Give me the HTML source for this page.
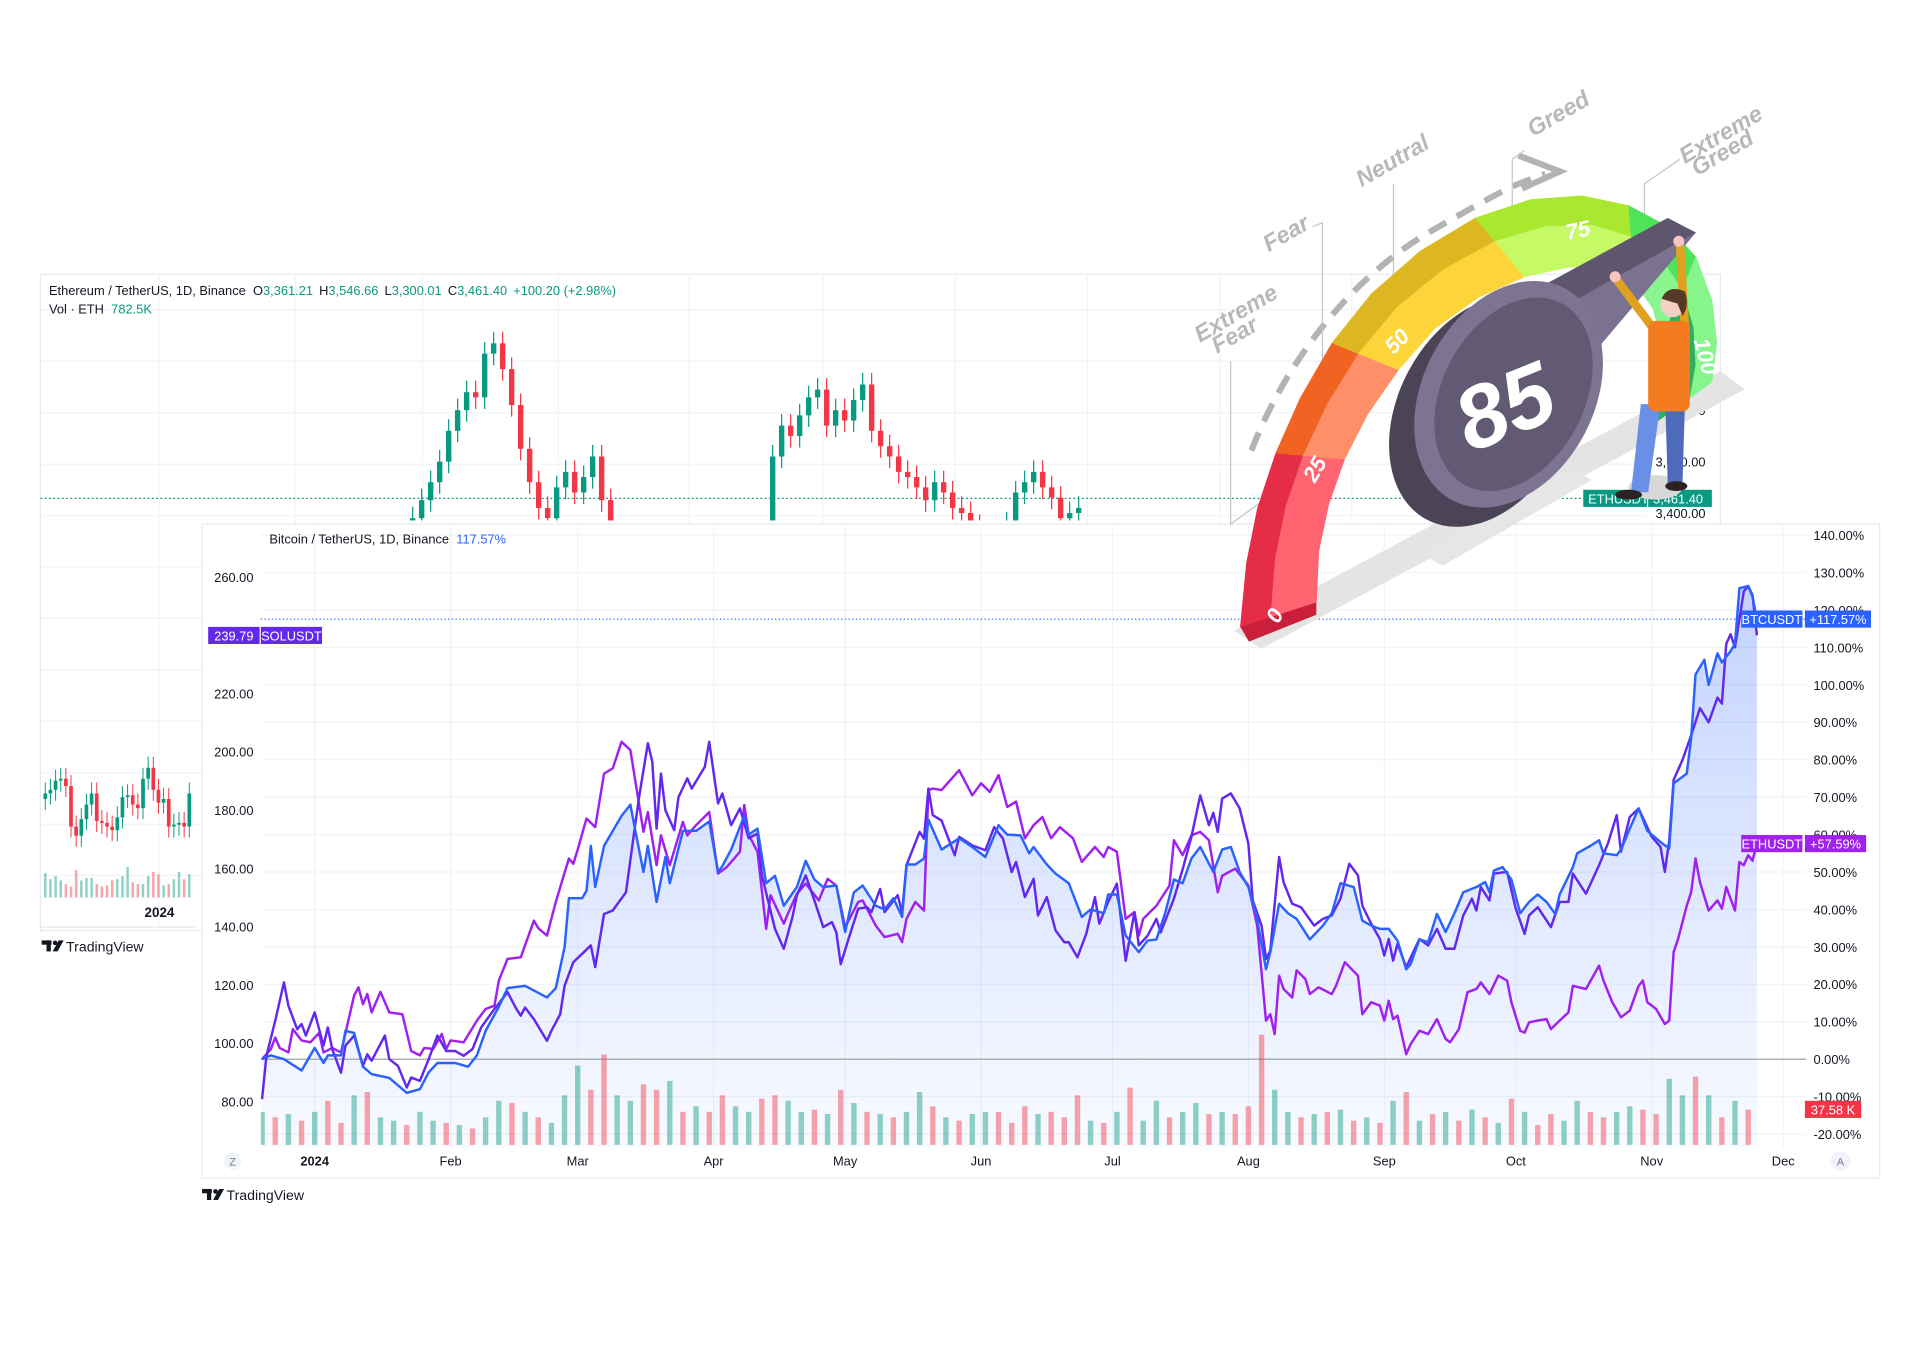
<!DOCTYPE html>
<html><head><meta charset="utf-8">
<style>
html,body{margin:0;padding:0;background:#fff;width:1920px;height:1350px;overflow:hidden}
#stage{position:absolute;left:0;top:0;width:1568px;height:1103px;transform:scale(1.224490);transform-origin:0 0}
svg text{font-family:"Liberation Sans",sans-serif}
</style></head>
<body>
<div id="stage">
<svg id="svg" width="1568" height="1103" viewBox="0 0 1568 1103" xmlns="http://www.w3.org/2000/svg">
  <g id="ethPanel">
    <rect x="33" y="224" width="1372" height="536" fill="#fff" stroke="#e8eaf0" stroke-width="1"/>
    <g id="ethGrid"></g>
    <line x1="33" y1="407" x2="1345" y2="407" stroke="#089981" stroke-width="1" stroke-dasharray="1.5 2"/>
    <g id="ethCandles"></g>
    <g id="miniChart"></g>
    <text x="40" y="241" font-size="10.5" fill="#131722">Ethereum / TetherUS, 1D, Binance <tspan dx="3">O</tspan><tspan fill="#089981">3,361.21</tspan><tspan dx="5">H</tspan><tspan fill="#089981">3,546.66</tspan><tspan dx="5">L</tspan><tspan fill="#089981">3,300.01</tspan><tspan dx="5">C</tspan><tspan fill="#089981">3,461.40</tspan><tspan dx="5" fill="#089981">+100.20 (+2.98%)</tspan></text>
    <text x="40" y="256" font-size="10.5" fill="#131722">Vol · ETH <tspan dx="3" fill="#089981">782.5K</tspan></text>
    <text x="1352" y="339" font-size="10.5" fill="#131722">3,800.00</text>
    <text x="1352" y="381" font-size="10.5" fill="#131722">3,600.00</text>
    <text x="1352" y="423" font-size="10.5" fill="#131722">3,400.00</text>
    <line x1="33" y1="757" x2="160" y2="757" stroke="#e0e3eb"/>
    <text x="118" y="749" font-size="11" font-weight="bold" fill="#131722">2024</text>
    <g>
      <rect x="34" y="768" width="8" height="3.5" fill="#131722"/><rect x="38" y="768" width="3.5" height="9" fill="#131722"/>
      <circle cx="45" cy="770" r="1.9" fill="#131722"/><polygon points="48,768 52,768 47,777 43,777" fill="#131722"/>
      <text x="54" y="777" font-size="11.5" fill="#131722">TradingView</text>
    </g>
  </g>

  <g id="btcPanel">
    <rect x="165" y="428" width="1370" height="534" fill="#fff" stroke="#e8eaf0" stroke-width="1"/>
    <g id="grid"></g>
    <defs>
      <linearGradient id="areaGrad" x1="0" y1="0" x2="0" y2="1">
        <stop offset="0" stop-color="#2962ff" stop-opacity="0.28"/>
        <stop offset="1" stop-color="#2962ff" stop-opacity="0.03"/>
      </linearGradient>
      <clipPath id="plotClip"><rect x="213" y="429" width="1262" height="508"/></clipPath>
    </defs>
    <g id="plot" clip-path="url(#plotClip)"></g>
    <g id="axes"></g>
    <text x="220" y="444" font-size="10.5" fill="#131722">Bitcoin / TetherUS, 1D, Binance <tspan dx="3" fill="#2962ff">117.57%</tspan></text>
    <g>
      <rect x="165" y="971" width="8" height="3.5" fill="#131722"/><rect x="169" y="971" width="3.5" height="9" fill="#131722"/>
      <circle cx="176" cy="973" r="1.9" fill="#131722"/><polygon points="179,971 183,971 178,980 174,980" fill="#131722"/>
      <text x="185" y="980" font-size="11.5" fill="#131722">TradingView</text>
    </g>
  </g>

  <g id="gauge">
    <polygon points="1008,515 1030,530 1425,318 1405,303" fill="#e4e4e4"/>
    <polygon points="1160,452 1178,462 1300,392 1283,382" fill="#e6e6e6"/>
    <path d="M1022,368 C1048,300 1100,228 1170,188 S1235,152 1262,142" fill="none" stroke="#b3b3b3" stroke-width="5" stroke-dasharray="16 10"/>
    <polyline points="1240,127 1274,140 1243,154" fill="none" stroke="#b3b3b3" stroke-width="5"/>
    <g stroke="#c4c4c4" stroke-width="1" fill="none">
      <polyline points="1030,410 1005,428 1005,295"/>
      <polyline points="1080,318 1080,182 1072,185"/>
      <polyline points="1138,240 1138,150"/>
      <polyline points="1235,170 1235,130 1245,123"/>
      <polyline points="1343,210 1343,150 1372,130"/>
    </g>
    <g fill="#b8b8b8" font-style="italic" font-weight="bold" font-size="19">
      <text transform="translate(980,280) rotate(-30)">Extreme</text>
      <text transform="translate(994,289) rotate(-30)">Fear</text>
      <text transform="translate(1036,206) rotate(-30)">Fear</text>
      <text transform="translate(1112,153) rotate(-30)">Neutral</text>
      <text transform="translate(1252,112) rotate(-30)">Greed</text>
      <text transform="translate(1376,134) rotate(-30)">Extreme</text>
      <text transform="translate(1386,144) rotate(-30)">Greed</text>
    </g>
    <g id="bands"></g>
    <g fill="#fff" font-style="italic" font-weight="bold" font-size="18">
      <text transform="translate(1044,510) rotate(-62)">0</text>
      <text transform="translate(1074,395) rotate(-60)">25</text>
      <text transform="translate(1138,290) rotate(-45)">50</text>
      <text transform="translate(1280,196) rotate(-12)">75</text>
      <text transform="translate(1383,278) rotate(75)">100</text>
    </g>
    <rect x="1293" y="400" width="52" height="14" fill="#089981"/>
    <text x="1297" y="411" font-size="10.5" fill="#fff">ETHUSDT</text>
    <rect x="1346" y="400" width="52" height="14" fill="#089981"/>
    <text x="1350" y="411" font-size="10.5" fill="#fff">3,461.40</text>
    <g>
      <polygon points="1255,236 1362,178 1385,190 1300,290 1262,300" fill="#7a7290"/>
      <polygon points="1255,236 1362,178 1385,190 1285,246" fill="#5d566c"/>
      <ellipse cx="1212" cy="336" rx="70" ry="100" transform="rotate(28 1212 336)" fill="#4b4456"/>
      <ellipse cx="1232" cy="322" rx="70" ry="98" transform="rotate(28 1232 322)" fill="#7c7490"/>
      <ellipse cx="1236" cy="322" rx="58" ry="84" transform="rotate(28 1236 322)" fill="#625a72"/>
      <text transform="translate(1238,355) rotate(-22)" font-size="72" font-weight="bold" font-style="italic" fill="#fff" text-anchor="middle">85</text>
    </g>
    <g>
      <ellipse cx="1352" cy="398" rx="22" ry="10" fill="#d8d8d8"/>
      <polygon points="1340,330 1356,330 1346,402 1332,402" fill="#6a8fe6"/>
      <polygon points="1360,330 1376,330 1374,396 1362,396" fill="#4d6bb8"/>
      <ellipse cx="1330" cy="404" rx="11" ry="4" fill="#2b2323"/>
      <ellipse cx="1369" cy="397" rx="9" ry="4" fill="#2b2323"/>
      <line x1="1353" y1="272" x2="1320" y2="228" stroke="#e0a020" stroke-width="7" stroke-linecap="round"/>
      <line x1="1376" y1="268" x2="1372" y2="200" stroke="#e0a020" stroke-width="7" stroke-linecap="round"/>
      <rect x="1346" y="262" width="34" height="74" rx="6" fill="#f47b20"/>
      <circle cx="1319" cy="226" r="4.5" fill="#f7c3c3"/>
      <circle cx="1371" cy="197" r="4.5" fill="#f7c3c3"/>
      <circle cx="1366" cy="249" r="10" fill="#f5cfc4"/>
      <path d="M1357,244 Q1362,232 1376,238 Q1380,250 1374,258 L1370,248 Z" fill="#553a26"/>
    </g>
  </g>
</svg>
</div>
<script>
const btcDays=[-12,-10,-7,-3,0,2,3,6,7,9,11,13,17,21,24,26,28,32,35,37,39,42,44,48,53,55,57,58,61,62,63,64,66,70,72,73,75,76,78,80,81,84,87,90,92,93,95,98,99,101,103,105,107,110,112,114,116,119,121,123,125,128,130,132,134,135,137,139,140,143,147,150,153,156,158,161,163,164,167,169,172,175,177,180,181,183,185,188,190,192,194,196,198,200,202,205,207,209,211,213,215,217,218,220,222,224,227,230,232,234,237,239,241,243,245,247,249,250,252,254,256,258,260,262,265,267,268,269,271,273,275,277,279,281,283,284,287,288,291,293,294,297,298,300,302,304,307,309,310,313,314,315,317,318,320,321,323,324,325,327,328,329];
const btcPct=[0,1,0,-3,3,-1,1,1,7.6,7,-2,-4,-5,-9,-8,-3.5,-1,-1,-2,1,7.6,14,19,19.6,16.5,19,30,43,43,45,57,46,57,65,68,62,50,57,42,54,47,61,61,63.5,50,51.6,56,65,60,61.6,47,49,41,46,53,48,46,46.4,34,44.6,46.4,41,40,43,38,52,52,53.6,64,56,59,56.7,54,62.5,60,59.8,55,56.7,52,49.6,47,38,40,39,44,44,33,28.6,31.7,32,39,48,47,53.6,56.7,50,56,56.7,50,46,37.5,24,28.6,41.5,39,37.5,32,35.7,39,47,46,37,35.7,34.8,34.8,31.7,24,25.4,32,31.3,38.8,34,39,44.6,46,47.3,44.6,50.4,51.3,48,39,42,44,42,38.8,44,51.3,55,57,58.5,55,54.5,56,61.6,67,61,58,56.3,73.7,76.3,85.7,102.8,106.7,100,108.4,106,109,111,125.8,126.4,123.6,117.57];
const ethDays=[-12,-10,-9,-8,-6,-5,-3,-1,1,2,4,6,9,10,11,12,13,15,17,20,22,24,25,27,29,30,31,34,37,39,41,42,44,47,50,51,53,55,58,59,60,62,64,66,68,70,72,75,76,78,79,81,84,85,87,90,92,94,97,98,99,101,103,104,107,108,110,112,115,117,119,121,124,125,128,130,133,134,135,137,139,140,141,143,147,150,152,154,156,158,160,162,164,166,168,170,173,175,178,180,181,183,185,187,188,189,192,195,196,198,200,202,204,206,207,210,213,215,217,218,219,220,221,223,224,226,227,229,232,233,235,238,239,241,243,244,245,246,247,249,250,252,254,256,258,259,261,263,265,266,268,270,272,273,275,276,277,279,281,282,284,286,287,290,293,294,296,298,300,302,303,304,306,308,309,310,311,313,314,315,316,318,320,321,322,324,325,326,327,328,329];
const ethPct=[0,2.7,5.8,3,1.8,8,5,4.5,7,1.8,3,1.8,17,19.2,14.7,17.4,12.5,18,12.5,12,2.2,1,3,2.7,6.7,2.7,5,4.5,10.3,13.4,14.3,21,26.8,27.2,37,35,33,42,53.6,52.2,56,64.3,62,76.3,77.7,84.8,82.6,60.7,66,51.8,59.8,51.8,63.4,59.8,62.5,66,49.6,51.3,55.4,67.9,60,55.4,34.8,43.8,36.2,39,44.2,46.9,42.4,48.2,46.4,35.3,42,42.4,35.7,32.6,33.5,31.3,37.5,42,39.7,71.9,72.3,71.9,77.2,70.5,73.7,71.4,75.9,67.4,68.8,59,62.5,64.7,59,62,59,52.7,56.7,54,56.7,55.4,37.5,39.3,33,37.5,41,46.4,58.5,54.5,59.8,60.7,58.5,44.6,49,50.9,46.4,35.7,10.3,12,6.7,22.3,18.75,16.5,23.7,21.4,17.4,19.2,17.4,19.6,25.9,22.3,12,15.2,14.3,10.3,15.6,10.7,11.6,1.3,4,7.6,6.7,10.7,5.4,4.5,8,17.9,18.75,20.5,17.4,22.3,21,15.2,7.6,7.1,9.8,10.3,10.7,8,10.3,12.5,19.6,18.75,25,21,15.2,11.2,13,19.6,21,15.2,13.4,9.4,10.3,28.6,32.1,41,44.6,53.6,47.3,39.7,42.4,40.2,46,39.7,52.7,51.8,54.5,53,57.59];
const solDays=[-12,-11,-9,-7,-6,-4,-3,-2,0,2,3,4,6,7,9,11,12,13,16,17,19,21,22,24,26,28,30,32,34,36,38,41,44,46,47,48,50,53,54,56,57,59,63,64,66,68,71,73,74,76,77,78,79,80,82,83,85,86,89,90,92,93,95,97,99,101,102,105,107,109,110,112,114,116,118,119,120,122,124,126,127,129,130,133,134,135,138,139,140,141,143,146,147,150,153,155,157,159,160,162,164,165,167,169,171,172,174,176,178,179,181,183,185,187,188,190,192,193,196,198,200,202,204,205,206,207,209,211,213,214,216,217,218,220,221,223,225,228,230,232,234,236,238,239,241,243,244,245,246,247,249,252,254,256,258,260,262,264,265,266,268,269,272,274,276,277,279,282,284,286,287,290,293,295,297,298,300,302,305,307,308,309,310,312,314,316,318,320,321,322,323,324,326,327,328,329];
const solPct=[-10.7,0.9,10.3,20.5,14.3,8,9.4,6.3,12.5,3.6,8.5,2.7,-3.6,3.6,6.3,-1.8,1.3,-0.4,6.3,0,-1.8,-7.6,-4.9,-5.8,0,6.3,2.2,2.2,0.9,2.7,8.5,13.4,17.9,13.4,11.6,13.8,10.7,4.9,7.6,12,19.6,25.9,30.4,24.6,38.8,39.7,44.6,61.6,70,84.4,79.5,61.6,76.3,66.5,61.2,70,75,72.3,78.1,84.8,68.3,71,62.5,67,59,60.3,49.1,34.8,29.5,38,43.8,49.1,42.4,35.3,36.6,33.9,25.4,33,40.2,40.6,39.3,45.5,39.3,43.8,39.3,51.8,60.7,58.9,72.3,65.2,63.8,54.5,59.4,57.1,55.8,62,58.9,50,52.7,43.3,48.2,38.4,43.3,34.4,31.25,31.25,27.2,33.5,43.3,36.2,42,46.9,26.3,39.3,30.4,33,37.5,33.9,42.9,50.7,59.4,70.5,62.5,65.8,60.7,69.6,71,67,57.6,42.4,35.7,26.8,29,54,47.3,41.5,40.6,35.7,37.5,38.4,42.9,52.2,49.1,41,36.2,32.1,27.7,32.1,26.3,30.8,24.6,32.1,30.4,34.8,29.5,29.5,38.4,42.9,39.7,46,42.4,49.6,50,40.2,33.5,38.4,40.6,35.3,42,42,49.6,44.2,51.8,57.6,65.2,55.4,64.7,67,59.4,56.7,50,58.5,74.6,79.9,86.5,93.8,90,96.6,95,111,113.5,110,125,126.4,124,113.2];
const solLastPrice=239.79;
const volFirstDay=-12, volStepDays=3;
const volValues=[30,25,28,22,30,40,20,45,48,25,22,18,30,22,20,18,15,25,40,38,30,25,20,45,72,50,82,45,40,55,50,58,30,35,30,45,35,30,42,45,40,30,32,28,50,38,30,28,25,30,48,35,25,22,28,30,30,20,35,28,30,25,45,22,20,30,52,22,40,25,30,38,28,30,28,35,100,50,30,25,28,30,32,22,25,20,40,48,22,28,30,22,32,25,20,42,30,18,28,22,40,30,25,30,35,32,28,60,45,62,45,25,40,32];
const volUp=[1,0,1,0,1,0,0,1,0,1,1,0,1,1,0,1,0,1,1,0,1,0,1,1,1,0,0,1,1,0,0,1,0,1,0,0,1,1,0,0,1,1,0,1,0,1,0,1,0,1,1,0,1,0,1,1,0,0,0,1,0,0,0,1,0,1,0,1,1,0,1,1,0,1,0,0,0,1,1,0,1,0,1,0,1,0,1,0,1,0,1,0,1,0,1,0,1,0,0,1,1,0,0,1,1,0,0,1,1,0,1,0,1,0];
const pctTicks=[-20,-10,0,10,20,30,40,50,60,70,80,90,100,110,120,130,140];
const solTicks=[80,100,120,140,160,180,200,220,260];
const monthLabels=["2024","Feb","Mar","Apr","May","Jun","Jul","Aug","Sep","Oct","Nov","Dec"];
const monthDays=[0,31,60,91,121,152,182,213,244,274,305,335];
const ethClose=[3380,3450,3520,3600,3720,3800,3870,3850,4020,4060,3960,3820,3650,3520,3420,3380,3500,3560,3480,3540,3620,3450,3300,3250,3200,3150,3100,3050,3000,3050,3100,3150,3120,3080,3050,3100,3150,3200,3250,3300,3620,3740,3700,3780,3850,3880,3740,3800,3760,3840,3900,3720,3660,3620,3560,3540,3500,3450,3520,3480,3420,3400,3350,3300,3280,3320,3360,3480,3520,3560,3500,3460,3380,3400,3420];
const miniClose=[3480,3500,3550,3560,3520,3300,3250,3340,3420,3480,3330,3320,3300,3280,3350,3460,3470,3420,3400,3560,3620,3500,3430,3450,3300,3310,3320,3300,3480];
const miniVol=[40,30,35,28,22,18,45,28,32,32,22,18,20,28,30,35,50,25,22,22,35,42,38,20,22,30,42,30,38];

const xDay=d=>257+d*3.58;
const yPct=p=>865-p*3.057;
const ySol=v=>852-(v-100)*2.38;
const yVol=v=>935-v*0.9;
const yEth=p=>419-(p-3400)*0.21;
const yMini=p=>690-(p-3200)*0.15;
const NS="http://www.w3.org/2000/svg";
function mk(parent,tag,attrs,text){const e=document.createElementNS(NS,tag);for(const k in attrs)e.setAttribute(k,attrs[k]);if(text!==undefined)e.textContent=text;parent.appendChild(e);return e;}
const $=id=>document.getElementById(id);

(function(){const g=$('ethGrid');
 for(let y=253;y<=740;y+=42){const l=mk(g,'line',{x1:34,x2:1345,y1:y,y2:y,stroke:'#f0f3fa'});
 
 }
 [130,241,345,456,563,672,780,888,996,1104,1212].forEach(x=>{const l=mk(g,'line',{x1:x,x2:x,y1:225,y2:756,stroke:'#f0f3fa'});
 
 });
})();

(function(){const g=$('ethCandles');
 ethClose.forEach((c,i)=>{const o=i?ethClose[i-1]:c-40;const x=337+i*7.35;const up=c>=o;const col=up?'#089981':'#f23645';
  const hi=Math.max(o,c)+45, lo=Math.min(o,c)-45;
  const cg=mk(g,'g',{});
  
  
  mk(cg,'line',{x1:x,x2:x,y1:Math.min(yEth(hi),425),y2:Math.min(yEth(lo),425),stroke:col,'stroke-width':1});
  const yt=Math.min(yEth(Math.max(o,c)),425), yb=Math.min(yEth(Math.min(o,c)),425);
  if(yb>yt||yt<425) mk(cg,'rect',{x:x-2.2,y:yt,width:4.4,height:Math.max(yb-yt,1),fill:col});
 });})();

(function(){const g=$('miniChart');
 miniClose.forEach((c,i)=>{const o=i?miniClose[i-1]:c-30;const x=37+i*4.2;const up=c>=o;const col=up?'#089981':'#f23645';
  const cg=mk(g,'g',{});
  
  
  mk(cg,'line',{x1:x,x2:x,y1:yMini(Math.max(o,c)+60),y2:yMini(Math.min(o,c)-60),stroke:col,'stroke-width':0.8});
  mk(cg,'rect',{x:x-1.5,y:yMini(Math.max(o,c)),width:3,height:Math.max(Math.abs(yMini(o)-yMini(c)),1),fill:col});
  const b=mk(g,'rect',{x:x-1,y:733-miniVol[i]*0.5,width:2,height:miniVol[i]*0.5,fill:up?'rgba(8,153,129,0.45)':'rgba(242,54,69,0.45)'});
  
  
 });})();

(function(){const g=$('grid'),a=$('axes');
 pctTicks.forEach(p=>{const y=yPct(p);
  const l=mk(g,'line',{x1:213,x2:1475,y1:y,y2:y,stroke:'#f0f3fa'});
  
  
  const t=mk(a,'text',{x:1481,y:y+4,'font-size':10.5,fill:'#131722'},p.toFixed(2)+'%');
  
  });
 solTicks.forEach(v=>{const t=mk(a,'text',{x:207,y:ySol(v)+4,'font-size':10.5,fill:'#131722','text-anchor':'end'},v.toFixed(2));
  
  });
 monthDays.forEach((d,i)=>{const x=xDay(d);
  const l=mk(g,'line',{x1:x,x2:x,y1:429,y2:937,stroke:'#f0f3fa'});
  
  
  const t=mk(a,'text',{x:x,y:952,'font-size':10.5,fill:'#131722','text-anchor':'middle','font-weight':i===0?'bold':'normal'},monthLabels[i]);
  
  });
 const z=mk(a,'circle',{cx:190,cy:948,r:7,fill:'#f0f3fa'});
 
 
 mk(a,'text',{x:190,y:952,'font-size':9,fill:'#787b86','text-anchor':'middle'},'Z');
 const ab=mk(a,'circle',{cx:1503,cy:948,r:8,fill:'#f0f3fa'});
 
 
 mk(a,'text',{x:1503,y:952,'font-size':9,fill:'#787b86','text-anchor':'middle'},'A');
})();

(function(){const g=$('plot');
 let d='M'+xDay(btcDays[0])+',937';
 btcDays.forEach((dd,i)=>{d+=' L'+xDay(dd).toFixed(1)+','+yPct(btcPct[i]).toFixed(1);});
 d+=' L'+xDay(btcDays[btcDays.length-1])+',937 Z';
 const ar=mk(g,'path',{d:d,fill:'url(#areaGrad)'});
 
 
 const zl=mk(g,'line',{x1:213,x2:1475,y1:yPct(0),y2:yPct(0),stroke:'#9598a1','stroke-width':1});
 
 
 volValues.forEach((v,i)=>{const day=volFirstDay+i*volStepDays;const y=yVol(v);
  const b=mk(g,'rect',{x:xDay(day)-2.2,y:y,width:4.4,height:935-y,fill:volUp[i]?'rgba(8,153,129,0.45)':'rgba(242,54,69,0.45)'});
  
  });
 const line=(days,vals,fy,col,name)=>{const pts=days.map((dd,i)=>xDay(dd).toFixed(1)+','+fy(vals[i]).toFixed(1)).join(' ');
  const p=mk(g,'polyline',{points:pts,fill:'none',stroke:col,'stroke-width':2,'stroke-linejoin':'round'});
  
  };
 line(ethDays,ethPct,yPct,'#a020f0','ethusdt-line');
 line(solDays,solPct,yPct,'#6228f0','solusdt-line');
 line(btcDays,btcPct,yPct,'#2962ff','btcusdt-line');
 const last=btcPct[btcPct.length-1];
 const dl=mk(g,'line',{x1:213,x2:1475,y1:yPct(last),y2:yPct(last),stroke:'#2962ff','stroke-width':1,'stroke-dasharray':'1 2'});
 
 
})();

(function(){const a=$('axes');
 const tag=(x,y,w,col,txt,name)=>{const r=mk(a,'rect',{x:x,y:y-7,width:w,height:14,fill:col});
  
  
  mk(a,'text',{x:x+w/2,y:y+4,'font-size':10.5,fill:'#fff','text-anchor':'middle'},txt);};
 const bl=btcPct[btcPct.length-1], el=ethPct[ethPct.length-1], sl=solPct[solPct.length-1];
 tag(1422,yPct(bl),50,'#2962ff','BTCUSDT','btc-symbol-tag');
 tag(1474,yPct(bl),54,'#2962ff','+'+bl.toFixed(2)+'%','btc-value-tag');
 tag(1422,yPct(el),50,'#a020f0','ETHUSDT','eth-symbol-tag-main');
 tag(1474,yPct(el),50,'#a020f0','+'+el.toFixed(2)+'%','eth-value-tag');
 tag(1474,906,46,'#f23645','37.58 K','volume-value-tag');
 tag(170,yPct(sl),42,'#6228f0',solLastPrice.toFixed(2),'sol-value-tag');
 tag(213,yPct(sl),50,'#6228f0','SOLUSDT','sol-symbol-tag');
})();

(function(){const g=$('bands');
 const OUT=[[1013,512],[1018,460],[1027,415],[1042,370],[1062,325],[1088,280],[1120,240],[1160,205],[1205,178],[1250,163],[1292,160],[1330,168],[1362,185],[1385,210],[1398,245],[1402,280],[1398,312]];
 const INN=[[1075,492],[1077,450],[1085,412],[1098,375],[1117,338],[1142,302],[1172,268],[1207,243],[1245,226],[1282,218],[1312,220],[1336,232],[1350,252],[1357,278],[1360,302],[1358,325],[1352,345]];
 const MID=OUT.map((o,i)=>[o[0]+(INN[i][0]-o[0])*0.4,o[1]+(INN[i][1]-o[1])*0.4]);
 const segs=[[0,3,'#e52d47','#ff6470','band-extreme-fear'],[3,5,'#f06322','#ff8f68','band-fear'],[5,8,'#ddb722','#fdd43a','band-neutral'],[8,11,'#a9e82f','#c6f966','band-greed'],[11,13,'#4fe35a','#8af58e','band-extreme-greed'],[13,16,'#86f58a','#2fae5e','band-extreme-greed-side']];
 const poly=(A,B,a,b)=>{const p=[];for(let i=a;i<=b;i++)p.push(A[i]);for(let i=b;i>=a;i--)p.push(B[i]);return p.map(q=>q.join(',')).join(' ');};
 segs.forEach(s=>{const p1=mk(g,'polygon',{points:poly(OUT,MID,s[0],s[1]),fill:s[2],stroke:s[2],'stroke-width':0.6});
  
  
  const p2=mk(g,'polygon',{points:poly(MID,INN,s[0],s[1]),fill:s[3],stroke:s[3],'stroke-width':0.6});
  
  });
 const cap=mk(g,'polygon',{points:'1013,512 1075,492 1075,502 1020,524',fill:'#c91f3a'});
 
 
})();
</script>
</body></html>
